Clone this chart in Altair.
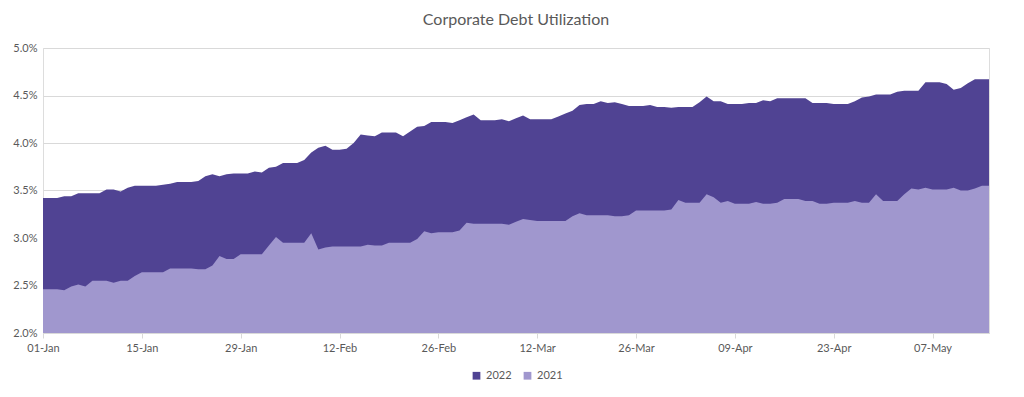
import altair as alt
import pandas as pd
import numpy as np

start = "2022-01-01"
n_days = 135

v2022 = [3.42, 3.42, 3.42, 3.44, 3.44, 3.47, 3.47, 3.47, 3.47, 3.51,
         3.51, 3.49, 3.53, 3.55, 3.55, 3.55, 3.55, 3.56, 3.57, 3.59,
         3.59, 3.59, 3.60, 3.65, 3.67, 3.65, 3.67, 3.68, 3.68, 3.68,
         3.70, 3.69, 3.74, 3.75, 3.79, 3.79, 3.79, 3.82, 3.90, 3.95,
         3.97, 3.93, 3.93, 3.94, 4.00, 4.09, 4.08, 4.07, 4.11, 4.11,
         4.11, 4.07, 4.12, 4.17, 4.18, 4.22, 4.22, 4.22, 4.21, 4.24,
         4.27, 4.30, 4.24, 4.24, 4.24, 4.25, 4.23, 4.26, 4.29, 4.25,
         4.25, 4.25, 4.25, 4.28, 4.31, 4.34, 4.40, 4.41, 4.41, 4.44,
         4.42, 4.43, 4.41, 4.39, 4.39, 4.39, 4.40, 4.38, 4.38, 4.37,
         4.38, 4.38, 4.38, 4.43, 4.49, 4.44, 4.44, 4.41, 4.41, 4.41,
         4.42, 4.42, 4.45, 4.44, 4.47, 4.47, 4.47, 4.47, 4.47, 4.42,
         4.42, 4.42, 4.41, 4.41, 4.41, 4.44, 4.48, 4.49, 4.51, 4.51,
         4.51, 4.54, 4.55, 4.55, 4.55, 4.64, 4.64, 4.64, 4.62, 4.56,
         4.58, 4.63, 4.67, 4.67, 4.67]

v2021 = [2.46, 2.46, 2.46, 2.45, 2.49, 2.51, 2.49, 2.55, 2.55, 2.55,
         2.53, 2.55, 2.55, 2.60, 2.64, 2.64, 2.64, 2.64, 2.68, 2.68,
         2.68, 2.68, 2.67, 2.67, 2.71, 2.81, 2.78, 2.78, 2.83, 2.83,
         2.83, 2.83, 2.92, 3.01, 2.95, 2.95, 2.95, 2.95, 3.05, 2.88,
         2.90, 2.91, 2.91, 2.91, 2.91, 2.91, 2.93, 2.92, 2.92, 2.95,
         2.95, 2.95, 2.95, 2.99, 3.07, 3.05, 3.06, 3.06, 3.06, 3.08,
         3.16, 3.15, 3.15, 3.15, 3.15, 3.15, 3.14, 3.17, 3.20, 3.19,
         3.18, 3.18, 3.18, 3.18, 3.18, 3.23, 3.26, 3.24, 3.24, 3.24,
         3.24, 3.23, 3.23, 3.24, 3.29, 3.29, 3.29, 3.29, 3.29, 3.30,
         3.40, 3.37, 3.37, 3.37, 3.46, 3.43, 3.37, 3.39, 3.36, 3.36,
         3.36, 3.38, 3.36, 3.36, 3.37, 3.41, 3.41, 3.41, 3.39, 3.39,
         3.36, 3.36, 3.37, 3.37, 3.37, 3.39, 3.37, 3.37, 3.46, 3.39,
         3.39, 3.39, 3.46, 3.52, 3.51, 3.53, 3.51, 3.51, 3.51, 3.53,
         3.50, 3.50, 3.52, 3.55, 3.55]

series_names = ["2022", "2021"]
colors = ["#504393", "#a097ce"]
tick_dates = ["2022-01-01", "2022-01-15", "2022-01-29", "2022-02-12", "2022-02-26",
              "2022-03-12", "2022-03-26", "2022-04-09", "2022-04-23", "2022-05-07"]
y_ticks = [0.020, 0.025, 0.030, 0.035, 0.040, 0.045, 0.050]
y_base = 0.02

dates = pd.date_range(start, periods=n_days, freq="D")
df = pd.concat([
    pd.DataFrame({"date": dates, "value": np.array(v2022) / 100, "series": "2022"}),
    pd.DataFrame({"date": dates, "value": np.array(v2021) / 100, "series": "2021"}),
])
df["date"] = df["date"].dt.strftime("%Y-%m-%d")

FONT = "Lato"
GRAY = "#595959"

x_enc = alt.X("date:T",
              scale=alt.Scale(domain=[dates[0].strftime("%Y-%m-%d"), dates[-1].strftime("%Y-%m-%d")]),
              axis=alt.Axis(values=[pd.Timestamp(d).strftime("%Y-%m-%dT00:00:00") for d in tick_dates],
                            format="%d-%b", labelFont=FONT, labelFontSize=11, labelColor=GRAY,
                            domainColor="#d9d9d9", tickColor="#d9d9d9", tickSize=5,
                            grid=False, title=None, labelPadding=4, labelFlush=False))
y_enc = alt.Y("value:Q",
              scale=alt.Scale(domain=[0.02, 0.05], nice=False, zero=False),
              axis=alt.Axis(values=y_ticks, format=".1%", labelFont=FONT, labelFontSize=11,
                            labelColor=GRAY, domain=False, ticks=False, gridColor="#d9d9d9",
                            title=None, labelPadding=6))
color_enc = alt.Color("series:N",
                      scale=alt.Scale(domain=series_names, range=colors),
                      legend=alt.Legend(title=None, orient="none", direction="horizontal",
                                        legendX=428, legendY=322, symbolType="square",
                                        symbolSize=60, labelFont=FONT, labelFontSize=11,
                                        labelColor=GRAY, columnPadding=10, symbolStrokeWidth=0))

base = alt.Chart(df)
a2022 = base.transform_filter(alt.datum.series == "2022").mark_area(opacity=1, clip=True).encode(
    x=x_enc, y=y_enc, y2=alt.Y2(datum=y_base), color=color_enc)
a2021 = base.transform_filter(alt.datum.series == "2021").mark_area(opacity=1, clip=True).encode(
    x=x_enc, y=y_enc, y2=alt.Y2(datum=y_base), color=color_enc)

chart = alt.layer(a2022, a2021).properties(
    width=946, height=285,
    title=alt.TitleParams("Corporate Debt Utilization", font=FONT, fontSize=16,
                          fontWeight="normal", color=GRAY, anchor="middle", offset=14),
    autosize=alt.AutoSizeParams(type="none"),
    padding={"left": 35, "top": 40, "right": 20, "bottom": 50},
).configure_view(stroke=None).configure(background="white")

chart.save("out.html", embed_options={"renderer": "svg", "actions": False})
